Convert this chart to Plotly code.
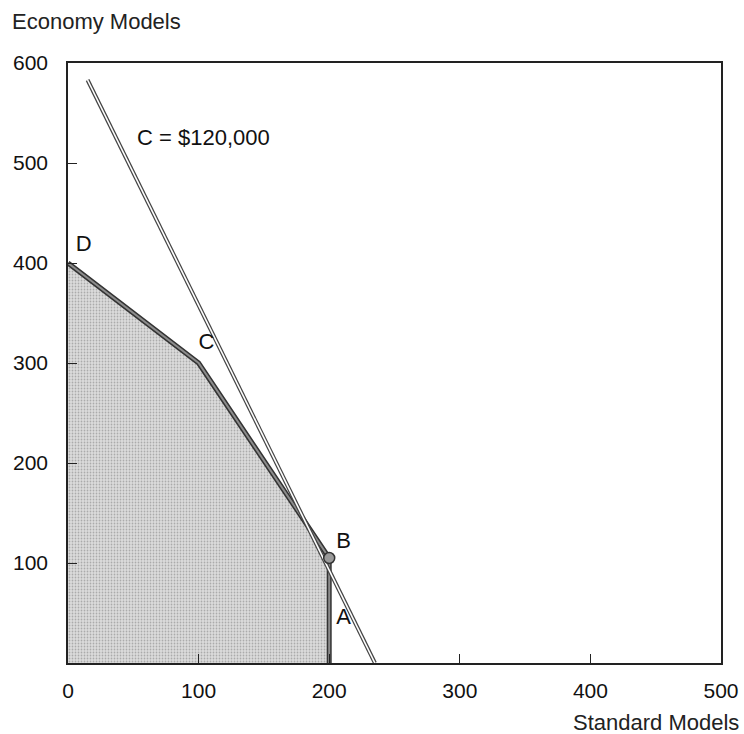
import plotly.graph_objects as go

# Feasible region vertices (Standard, Economy)
region_x = [0, 0, 100, 200, 200]
region_y = [0, 400, 300, 105, 0]
# Boundary D -> C -> B -> A
bound_x = [0, 100, 200, 200]
bound_y = [400, 300, 105, 0]
# Isocost line C = $120,000
iso_x = [15, 235]
iso_y = [583, 0]
# Corner labels
lab_text = ["D", "C", "B", "A"]
lab_x = [12, 106, 211, 211]
lab_y = [418, 320, 121, 45]

x_ticks = [0, 100, 200, 300, 400, 500]
y_ticks = [100, 200, 300, 400, 500, 600]

FONT = "Liberation Sans, Arial, sans-serif"
FS = 21
FT = 22

W, H = 744, 734
ML, MR, MT, MB = 68, 23, 63, 71
PW, PH = W - ML - MR, H - MT - MB


def px_to_paper(px, py):
    return ((px - ML) / PW, 1 - (py - MT) / PH)


fig = go.Figure()
fig.add_trace(go.Scatter(
    x=region_x, y=region_y, fill="toself", mode="none",
    fillcolor="#d8d8d8",
    fillpattern=dict(shape=".", bgcolor="#dcdcdc", fgcolor="#7a7a7a", size=3, solidity=0.28),
    hoverinfo="skip"))
# boundary double line
fig.add_trace(go.Scatter(x=bound_x, y=bound_y, mode="lines",
                         line=dict(color="#333333", width=5), hoverinfo="skip"))
fig.add_trace(go.Scatter(x=bound_x, y=bound_y, mode="lines",
                         line=dict(color="#8c8c8c", width=2), hoverinfo="skip"))
# isocost double line
fig.add_trace(go.Scatter(x=iso_x, y=iso_y, mode="lines",
                         line=dict(color="#444444", width=4), hoverinfo="skip"))
fig.add_trace(go.Scatter(x=iso_x, y=iso_y, mode="lines",
                         line=dict(color="white", width=1.6), hoverinfo="skip"))
# point B marker
fig.add_trace(go.Scatter(x=[bound_x[2]], y=[bound_y[2]], mode="markers",
                         marker=dict(size=11, color="#9a9a9a", line=dict(color="#333333", width=1.5)),
                         hoverinfo="skip"))
# labels
fig.add_trace(go.Scatter(x=lab_x, y=lab_y, mode="text", text=lab_text,
                         textfont=dict(family=FONT, size=FT, color="#111111"),
                         textposition="middle center", hoverinfo="skip"))

ex, ey = px_to_paper(10, 22)
sx, sy = px_to_paper(741, 722)

fig.update_layout(
    width=W, height=H,
    margin=dict(l=ML, r=MR, t=MT, b=MB, autoexpand=False),
    paper_bgcolor="white", plot_bgcolor="white",
    showlegend=False,
    hovermode=False,
    font=dict(family=FONT, size=FS, color="#111111"),
    annotations=[
        dict(x=ex, y=ey, xref="paper", yref="paper", text="Economy Models",
             showarrow=False, xanchor="left", yanchor="middle",
             font=dict(family=FONT, size=FT, color="#222222")),
        dict(x=sx, y=sy, xref="paper", yref="paper", text="Standard Models",
             showarrow=False, xanchor="right", yanchor="middle",
             font=dict(family=FONT, size=FT, color="#222222")),
        dict(x=51, y=526, xref="x", yref="y", text="C = $120,000", showarrow=False,
             xanchor="left", font=dict(family=FONT, size=FT, color="#111111")),
    ],
)

fig.update_xaxes(range=[0, 500], tickvals=x_ticks, ticktext=[str(v) for v in x_ticks],
                 ticks="inside", ticklen=9, tickcolor="#222222", tickwidth=1.3,
                 showline=True, linecolor="#222222", linewidth=1.5, mirror=True,
                 showgrid=False, zeroline=False, ticklabelstandoff=8, automargin=False)
fig.update_yaxes(range=[0, 600], tickvals=y_ticks, ticktext=[str(v) for v in y_ticks],
                 ticks="inside", ticklen=9, tickcolor="#222222", tickwidth=1.3,
                 showline=True, linecolor="#222222", linewidth=1.5, mirror=True,
                 showgrid=False, zeroline=False, ticklabelstandoff=14, automargin=False)

fig.write_html("out.html", config={"displayModeBar": False},
               post_script="document.body.style.margin='0';document.body.style.overflow='hidden';")
